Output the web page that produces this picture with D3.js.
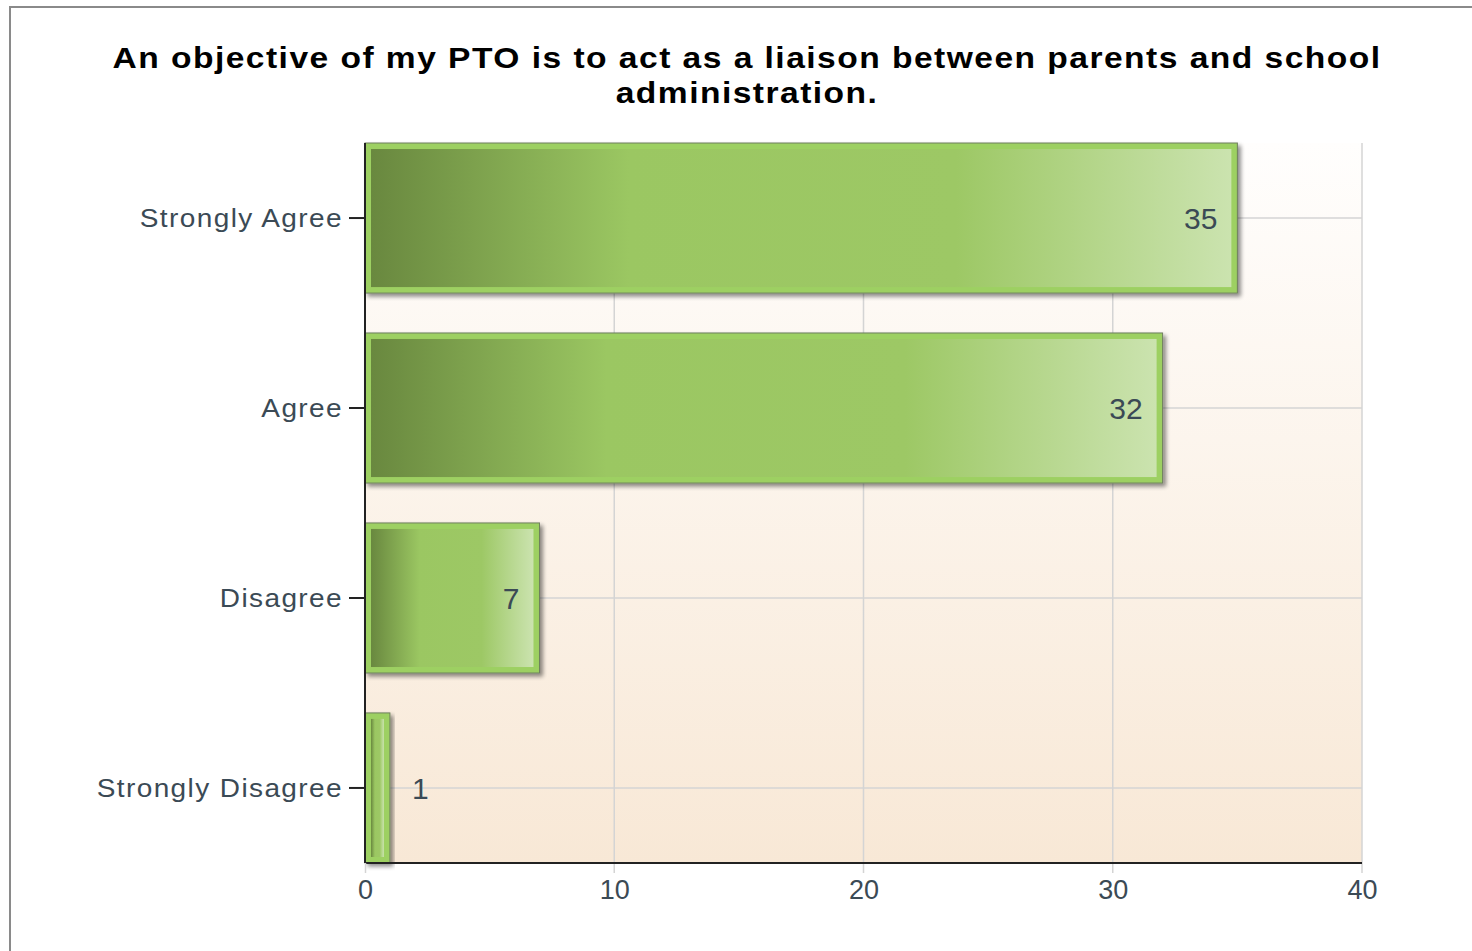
<!DOCTYPE html>
<html><head><meta charset="utf-8">
<script src="https://cdn.jsdelivr.net/npm/d3@7"></script>
<style>html,body{margin:0;padding:0;background:#fff;overflow:hidden}</style>
</head><body>
<svg id="chart" width="1472" height="951"></svg>
<script>
const titleLines = ["An objective of my PTO is to act as a liaison between parents and school", "administration."];
const categories = ["Strongly Agree", "Agree", "Disagree", "Strongly Disagree"];
const values = [35, 32, 7, 1];
const xTicks = [0, 10, 20, 30, 40];

const svg = d3.select("#chart");
const W = 1472, H = 951;
const m = {left: 365, right: 1362, top: 143, bottom: 863};
const font = "Liberation Sans, Arial, sans-serif";
const textColor = "#3b4a55";

const defs = svg.append("defs");
const bg = defs.append("linearGradient").attr("id","bg").attr("x1",0).attr("y1",0).attr("x2",0).attr("y2",1);
bg.append("stop").attr("offset","0").attr("stop-color","#fffefd");
bg.append("stop").attr("offset","1").attr("stop-color","#f8e8d6");
const bar = defs.append("linearGradient").attr("id","barg").attr("x1",0).attr("y1",0).attr("x2",1).attr("y2",0);
[["0","#69883f"],["0.3","#9bc762"],["0.68","#9dc865"],["1","#cbe3af"]].forEach(([o,c])=>bar.append("stop").attr("offset",o).attr("stop-color",c));
const sh = defs.append("filter").attr("id","sh").attr("x","-10%").attr("y","-10%").attr("width","130%").attr("height","130%");
sh.append("feGaussianBlur").attr("in","SourceAlpha").attr("stdDeviation",2).attr("result","b");
sh.append("feOffset").attr("in","b").attr("dx",3).attr("dy",3).attr("result","o");
sh.append("feComponentTransfer").attr("in","o").attr("result","o2").append("feFuncA").attr("type","linear").attr("slope",0.45);
const mg = sh.append("feMerge"); mg.append("feMergeNode").attr("in","o2"); mg.append("feMergeNode").attr("in","SourceGraphic");

// outer frame
svg.append("rect").attr("x",10).attr("y",7).attr("width",W).attr("height",H).attr("fill","#fff").attr("stroke","#8a8a8a").attr("stroke-width",2);

// title
svg.append("g").selectAll("text").data(titleLines).join("text")
  .attr("transform",(d,i)=>`translate(747,${68+i*35}) scale(1.12,1)`).attr("text-anchor","middle")
  .attr("font-family",font).attr("font-weight","bold").attr("font-size",30)
  .attr("letter-spacing",1.3)
  .attr("fill","#000").text(d=>d);

const x = d3.scaleLinear().domain([0,40]).range([m.left,m.right]);
const y = d3.scaleBand().domain(categories).range([m.top,m.bottom]).paddingInner(0.21).paddingOuter(0);

svg.append("rect").attr("x",m.left).attr("y",m.top).attr("width",m.right-m.left).attr("height",m.bottom-m.top).attr("fill","url(#bg)");

// grid
svg.append("g").selectAll("line").data(xTicks.slice(1)).join("line")
  .attr("x1",d=>x(d)).attr("x2",d=>x(d)).attr("y1",m.top).attr("y2",m.bottom+10)
  .attr("stroke","#d4d4d4").attr("stroke-width",1.5);
svg.append("g").selectAll("line").data(categories).join("line")
  .attr("x1",m.left).attr("x2",m.right).attr("y1",d=>y(d)+y.bandwidth()/2).attr("y2",d=>y(d)+y.bandwidth()/2)
  .attr("stroke","#d4d4d4").attr("stroke-width",1.5);

// bars
const g = svg.append("g").selectAll("g").data(categories).join("g");
g.append("rect").attr("x",x(0)).attr("y",d=>y(d)).attr("width",(d,i)=>x(values[i])-x(0)).attr("height",y.bandwidth())
  .attr("fill","#9dd062").attr("stroke","#6f7f5f").attr("stroke-width",1).attr("filter","url(#sh)");
g.append("rect").attr("x",x(0)+6).attr("y",d=>y(d)+6).attr("width",(d,i)=>Math.max(0,x(values[i])-x(0)-12)).attr("height",y.bandwidth()-12)
  .attr("fill","url(#barg)");

// value labels
g.append("text")
  .attr("x",(d,i)=> values[i] >= 3 ? x(values[i]) - 20 : x(values[i]) + 22)
  .attr("y",d=>y(d)+y.bandwidth()/2+11)
  .attr("text-anchor",(d,i)=> values[i] >= 3 ? "end" : "start")
  .attr("font-family",font).attr("font-size",30).attr("fill",textColor)
  .text((d,i)=>values[i]);

// axes
const yAxis = svg.append("g").attr("transform",`translate(${m.left},0)`).call(d3.axisLeft(y).tickSize(16).tickPadding(6));
yAxis.select(".domain").attr("stroke","#222").attr("stroke-width",2).attr("d",`M0,${m.top}V${m.bottom}`);
yAxis.selectAll(".tick line").attr("stroke","#222").attr("stroke-width",2);
yAxis.selectAll(".tick text").attr("font-family",font).attr("font-size",25).attr("letter-spacing",1.25)
  .attr("x",0).attr("transform","translate(-22,0) scale(1.12,1)").attr("fill",textColor).attr("dy","0.35em");

const xAxis = svg.append("g").attr("transform",`translate(0,${m.bottom})`).call(d3.axisBottom(x).tickValues(xTicks).tickSize(0).tickPadding(17));
xAxis.select(".domain").attr("stroke","#222").attr("stroke-width",2).attr("d",`M${m.left},0H${m.right}`);
xAxis.selectAll(".tick text").attr("font-family",font).attr("font-size",27).attr("fill",textColor);
xAxis.selectAll(".tick").filter(d=>d===0).append("line").attr("y1",0).attr("y2",10).attr("stroke","#d4d4d4").attr("stroke-width",1.5);
</script>
</body></html>
